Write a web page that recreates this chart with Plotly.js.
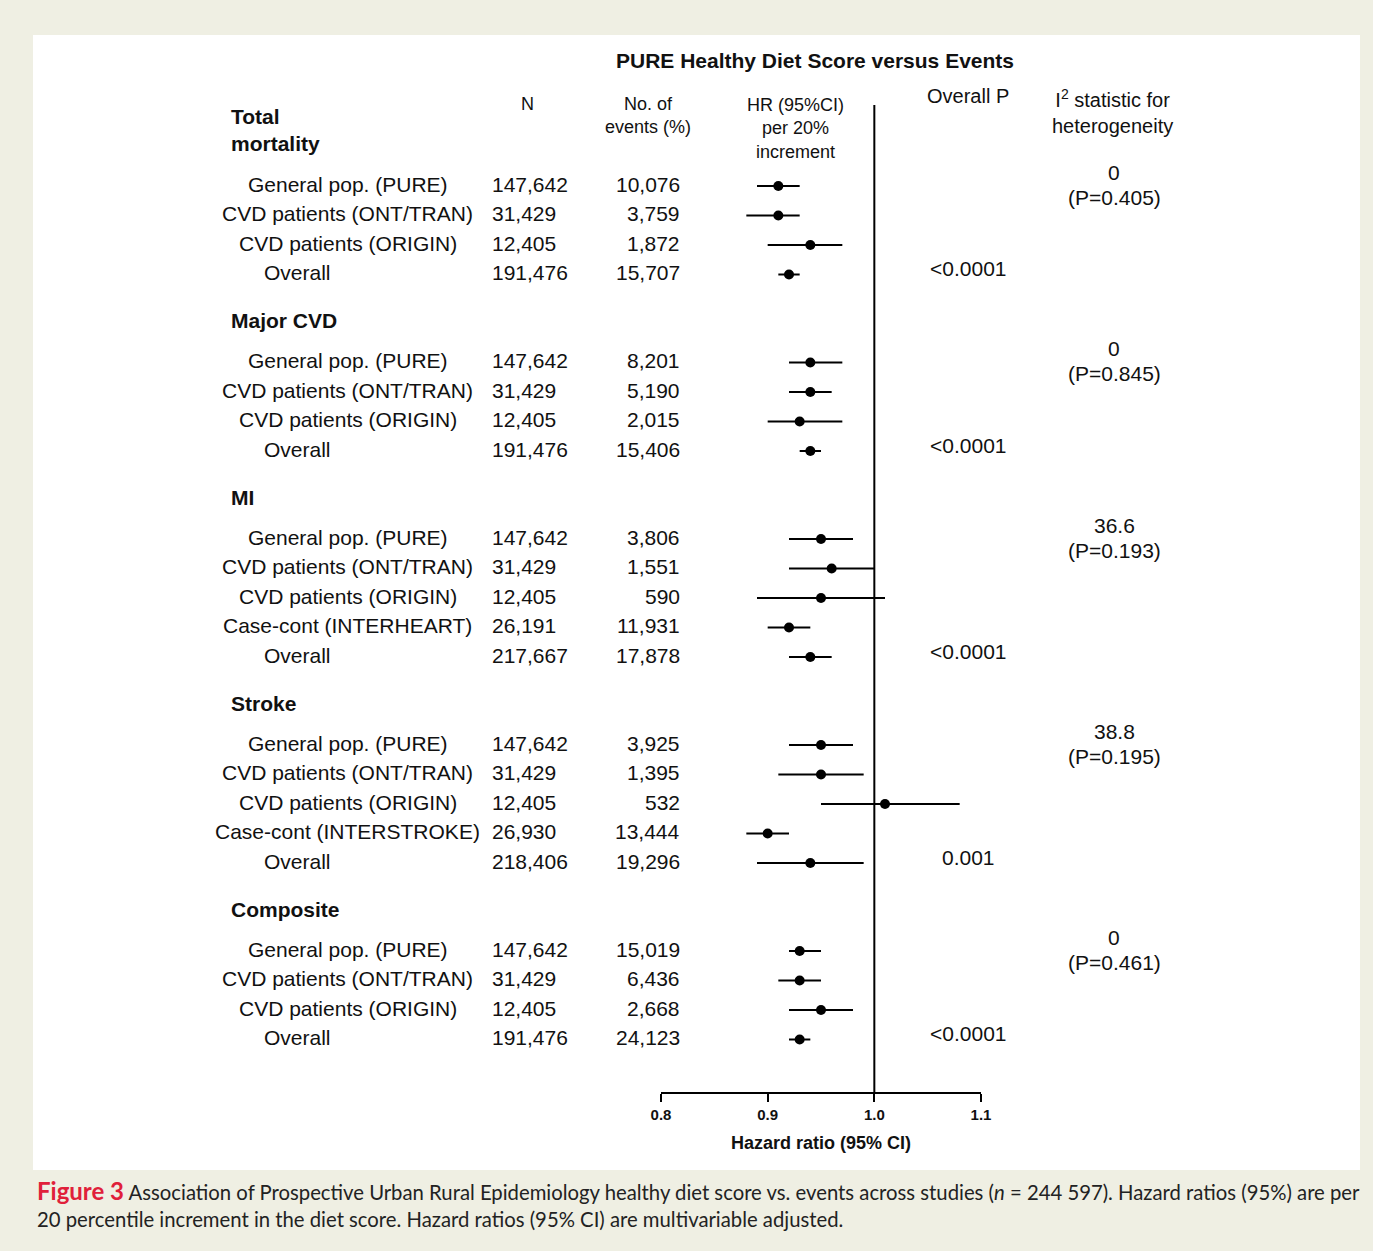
<!DOCTYPE html>
<html><head><meta charset="utf-8">
<script src="https://cdn.plot.ly/plotly-3.0.1.min.js"></script>
<style>body{margin:0}#plot{width:1373px;height:1251px}</style>
</head><body><div id="plot"></div>
<script>
// outcome groups
const groups = ['Total<br>mortality', 'Major CVD', 'MI', 'Stroke', 'Composite'];
const groupLabels = [
  ['General pop. (PURE)', 'CVD patients (ONT/TRAN)', 'CVD patients (ORIGIN)', 'Overall'],
  ['General pop. (PURE)', 'CVD patients (ONT/TRAN)', 'CVD patients (ORIGIN)', 'Overall'],
  ['General pop. (PURE)', 'CVD patients (ONT/TRAN)', 'CVD patients (ORIGIN)', 'Case-cont (INTERHEART)', 'Overall'],
  ['General pop. (PURE)', 'CVD patients (ONT/TRAN)', 'CVD patients (ORIGIN)', 'Case-cont (INTERSTROKE)', 'Overall'],
  ['General pop. (PURE)', 'CVD patients (ONT/TRAN)', 'CVD patients (ORIGIN)', 'Overall']
];
const groupN = [
  ['147,642', '31,429', '12,405', '191,476'],
  ['147,642', '31,429', '12,405', '191,476'],
  ['147,642', '31,429', '12,405', '26,191', '217,667'],
  ['147,642', '31,429', '12,405', '26,930', '218,406'],
  ['147,642', '31,429', '12,405', '191,476']
];
const groupEvents = [
  ['10,076', '3,759', '1,872', '15,707'],
  ['8,201', '5,190', '2,015', '15,406'],
  ['3,806', '1,551', '590', '11,931', '17,878'],
  ['3,925', '1,395', '532', '13,444', '19,296'],
  ['15,019', '6,436', '2,668', '24,123']
];
const groupHR = [
  [0.91, 0.91, 0.94, 0.92],
  [0.94, 0.94, 0.93, 0.94],
  [0.95, 0.96, 0.95, 0.92, 0.94],
  [0.95, 0.95, 1.01, 0.90, 0.94],
  [0.93, 0.93, 0.95, 0.93]
];
const groupLo = [
  [0.89, 0.88, 0.90, 0.91],
  [0.92, 0.92, 0.90, 0.93],
  [0.92, 0.92, 0.89, 0.90, 0.92],
  [0.92, 0.91, 0.95, 0.88, 0.89],
  [0.92, 0.91, 0.92, 0.92]
];
const groupHi = [
  [0.93, 0.93, 0.97, 0.93],
  [0.97, 0.96, 0.97, 0.95],
  [0.98, 1.00, 1.01, 0.94, 0.96],
  [0.98, 0.99, 1.08, 0.92, 0.99],
  [0.95, 0.95, 0.98, 0.94]
];
const overallP = ['<0.0001', '<0.0001', '<0.0001', '0.001', '<0.0001'];
const i2Value = ['0', '0', '36.6', '38.8', '0'];
const i2P = ['(P=0.405)', '(P=0.845)', '(P=0.193)', '(P=0.195)', '(P=0.461)'];

const W = 1373, H = 1251;
const px = v => v / W;
const F = 'Liberation Sans, Arial, sans-serif';
const rowH = 29.5;

const xs = [], ys = [], ep = [], em = [];
const ann = [];
function txt(x, y, text, opt) {
  ann.push(Object.assign({xref: 'paper', yref: 'y', x: px(x), y: y, text: text, showarrow: false,
    xanchor: 'center', yanchor: 'middle', font: {family: F, size: 21, color: '#111'}}, opt || {}));
}

let y = 130;
groups.forEach((g, gi) => {
  if (gi === 0) {
    txt(229, y, '<b>' + g + '</b>', {xanchor: 'left', align: 'left'});
    y += 54;
  } else {
    txt(229, y, '<b>' + g + '</b>', {xanchor: 'left'});
    y += 40;
  }
  const labels = groupLabels[gi];
  labels.forEach((lab, i) => {
    const isOverall = lab === 'Overall';
    txt(isOverall ? 297 : 348, y, lab);
    txt(490, y, groupN[gi][i], {xanchor: 'left'});
    txt(682, y, groupEvents[gi][i], {xanchor: 'right'});
    xs.push(groupHR[gi][i]); ys.push(y + 2);
    ep.push(groupHi[gi][i] - groupHR[gi][i]); em.push(groupHR[gi][i] - groupLo[gi][i]);
    if (isOverall) txt(968, y - 4, overallP[gi]);
    if (i === 0) {
      txt(1114, y - 12, i2Value[gi]);
      txt(1114, y + 13, i2P[gi]);
    }
    y += rowH;
  });
  y += 48 - rowH;
});

// column headers
const hf = {family: F, size: 18, color: '#111'};
txt(815, 60, '<b>PURE Healthy Diet Score versus Events</b>', {font: {family: F, size: 21, color: '#111'}});
txt(527, 104, 'N', {font: hf});
txt(648, 115, 'No. of<br>events (%)', {font: hf});
txt(795, 128, 'HR (95%CI)<br>per 20%<br>increment', {font: hf});
txt(968, 96, 'Overall P', {font: {family: F, size: 20, color: '#111'}});
txt(1112, 111, 'I<sup>2</sup> statistic for<br>heterogeneity', {font: {family: F, size: 20, color: '#111'}});

// caption
ann.push({xref: 'paper', yref: 'paper', x: px(35), y: 1 - 1190 / H, xanchor: 'left', yanchor: 'middle', showarrow: false, align: 'left',
  text: '<span style="color:#e0203a;font-size:24px"><b>Figure 3</b></span> Association of Prospective Urban Rural Epidemiology healthy diet score vs. events across studies (<i>n</i> = 244 597). Hazard ratios (95%) are per',
  font: {family: 'Lato, sans-serif', size: 20.3, color: '#222'}});
ann.push({xref: 'paper', yref: 'paper', x: px(35), y: 1 - 1219 / H, xanchor: 'left', yanchor: 'middle', showarrow: false,
  text: '20 percentile increment in the diet score. Hazard ratios (95% CI) are multivariable adjusted.',
  font: {family: 'Lato, sans-serif', size: 20.3, color: '#222'}});

const trace = {
  x: xs, y: ys, type: 'scatter', mode: 'markers', cliponaxis: false,
  marker: {color: '#000', size: 10},
  error_x: {type: 'data', symmetric: false, array: ep, arrayminus: em, color: '#000', thickness: 2, width: 0},
  hoverinfo: 'skip'
};

const layout = {
  width: W, height: H, margin: {l: 0, r: 0, t: 0, b: 0},
  paper_bgcolor: '#efefe3', plot_bgcolor: 'rgba(0,0,0,0)', showlegend: false,
  xaxis: {domain: [px(661), px(981)], range: [0.8, 1.1], tickvals: [0.8, 0.9, 1.0, 1.1], ticktext: ['<b>0.8</b>', '<b>0.9</b>', '<b>1.0</b>', '<b>1.1</b>'],
    showline: true, linecolor: '#000', linewidth: 2, ticks: 'outside', ticklen: 8, tickwidth: 2, tickcolor: '#000',
    showgrid: false, zeroline: false, tickfont: {family: F, size: 15, color: '#111'},
    title: {text: '<b>Hazard ratio (95% CI)</b>', font: {family: F, size: 18, color: '#111'}, standoff: 14}},
  yaxis: {domain: [(H - 1092) / H, 1], range: [1092, 0], visible: false, showgrid: false, zeroline: false},
  shapes: [
    {type: 'rect', xref: 'paper', yref: 'paper', x0: px(33), x1: px(1360), y0: 1 - 1170 / H, y1: 1 - 35 / H, fillcolor: '#fff', line: {width: 0}, layer: 'below'},
    {type: 'line', xref: 'x', yref: 'y', x0: 1, x1: 1, y0: 105, y1: 1092, line: {color: '#000', width: 2}}
  ],
  annotations: ann
};

Plotly.newPlot('plot', [trace], layout, {displayModeBar: false, staticPlot: true});
</script>
</body></html>
